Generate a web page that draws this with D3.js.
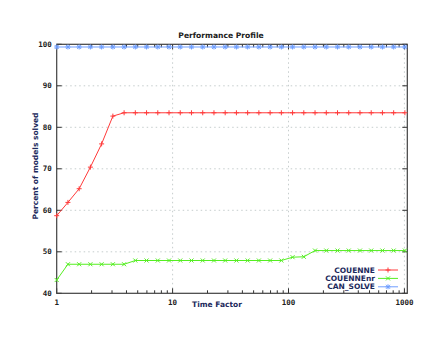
<!DOCTYPE html>
<html><head><meta charset="utf-8">
<script src="https://cdn.jsdelivr.net/npm/d3@7"></script>
<style>body{margin:0;background:#fff}svg{display:block}</style>
</head><body><svg id="c" width="440" height="340"></svg>
<script>
// Data (x = time factor sampled at 1.25^k, k = 0..31)
const timeFactors = [1,1.25,1.5625,1.953,2.441,3.052,3.815,4.768,5.96,7.451,9.313,11.64,14.55,18.19,22.74,28.42,35.53,44.41,55.51,69.39,86.74,108.4,135.5,169.4,211.8,264.7,330.9,413.6,517,646.2,807.8,1009.7];
const couenne   = [58.7,61.9,65.2,70.4,76.0,82.7,83.5,83.5,83.5,83.5,83.5,83.5,83.5,83.5,83.5,83.5,83.5,83.5,83.5,83.5,83.5,83.5,83.5,83.5,83.5,83.5,83.5,83.5,83.5,83.5,83.5,83.5];
const couenneNr = [43.2,47.0,47.0,47.0,47.0,47.0,47.0,47.9,47.9,47.9,47.9,47.9,47.9,47.9,47.9,47.9,47.9,47.9,47.9,47.9,47.9,48.7,48.8,50.3,50.3,50.3,50.3,50.3,50.3,50.3,50.3,50.3];
const canSolve  = [99.35,99.35,99.35,99.35,99.35,99.35,99.35,99.35,99.35,99.35,99.35,99.35,99.35,99.35,99.35,99.35,99.35,99.35,99.35,99.35,99.35,99.35,99.35,99.35,99.35,99.35,99.35,99.35,99.35,99.35,99.35,99.35];
const seriesNames = ["COUENNE","COUENNEnr","CAN_SOLVE"];
const xTickValues = [1,10,100,1000];
const yTickValues = [40,50,60,70,80,90,100];
const title = "Performance Profile";
const xLabel = "Time Factor";
const yLabel = "Percent of models solved";

const svg = d3.select("#c");
const L = 56.7, R = 407.3, T = 44.3, B = 293.3;
const x = d3.scaleLog().domain([1, 1059]).range([L, R]);
const y = d3.scaleLinear().domain([40, 100]).range([B, T]);
const textCol = "#1c2a5c";
const tickFont = "'DejaVu Sans Mono', monospace";
const labFont = "'DejaVu Sans', sans-serif";

// grid
const g = svg.append("g");
g.selectAll(".gx").data(xTickValues.filter(v => v > 1)).enter().append("line")
  .attr("x1", d => x(d)).attr("x2", d => x(d)).attr("y1", T).attr("y2", B)
  .attr("stroke", "#b8c0c0").attr("stroke-width", 0.8).attr("stroke-dasharray", "1.5,3");
g.selectAll(".gy").data(yTickValues.filter(v => v > 40 && v < 100)).enter().append("line")
  .attr("x1", L).attr("x2", R).attr("y1", d => y(d)).attr("y2", d => y(d))
  .attr("stroke", "#b8c0c0").attr("stroke-width", 0.8).attr("stroke-dasharray", "1.5,3");

// minor x ticks
const minor = [];
for (let dec = 1; dec <= 1000; dec *= 10) for (let m = 1; m <= 9; m++) { const v = dec * m; if (v <= 1059) minor.push(v); }
const tk = svg.append("g").attr("stroke", "#303030").attr("stroke-width", 1);
minor.forEach(v => {
  const major = xTickValues.includes(v);
  const len = major ? 5 : 3;
  tk.append("line").attr("x1", x(v)).attr("x2", x(v)).attr("y1", B).attr("y2", B - len);
  tk.append("line").attr("x1", x(v)).attr("x2", x(v)).attr("y1", T).attr("y2", T + len);
});
yTickValues.forEach(v => {
  tk.append("line").attr("x1", L).attr("x2", L + 5).attr("y1", y(v)).attr("y2", y(v));
  tk.append("line").attr("x1", R).attr("x2", R - 5).attr("y1", y(v)).attr("y2", y(v));
});

// border
svg.append("rect").attr("x", L).attr("y", T).attr("width", R - L).attr("height", B - T)
  .attr("fill", "none").attr("stroke", "#404040").attr("stroke-width", 1.2);

// tick labels
svg.selectAll(".yl").data(yTickValues).enter().append("text")
  .attr("x", L - 5).attr("y", d => y(d)).attr("dy", "0.35em").attr("text-anchor", "end")
  .attr("font-family", tickFont).attr("font-weight", "bold").attr("font-size", 7.5).attr("fill", "#202020")
  .text(d => d);
svg.selectAll(".xl").data(xTickValues).enter().append("text")
  .attr("x", d => x(d)).attr("y", B + 9).attr("dy", "0.35em").attr("text-anchor", "middle")
  .attr("font-family", tickFont).attr("font-weight", "bold").attr("font-size", 7.5).attr("fill", "#202020")
  .text(d => d);

// labels
svg.append("text").attr("x", 221).attr("y", 35).attr("dy", "0.35em").attr("text-anchor", "middle")
  .attr("font-family", labFont).attr("font-weight", "bold").attr("font-size", 7.6).attr("fill", "#202020").text(title);
svg.append("text").attr("x", 217).attr("y", 304).attr("dy", "0.35em").attr("text-anchor", "middle")
  .attr("font-family", labFont).attr("font-weight", "bold").attr("font-size", 7.5).attr("fill", textCol).text(xLabel);
svg.append("text").attr("transform", "translate(35,166) rotate(-90)").attr("dy", "0.35em").attr("text-anchor", "middle")
  .attr("font-family", labFont).attr("font-weight", "bold").attr("font-size", 7.5).attr("fill", textCol).text(yLabel);

// series
const series = [
  {name: seriesNames[0], vals: couenne, color: "#ff3a3a", marker: "plus"},
  {name: seriesNames[1], vals: couenneNr, color: "#55ee22", marker: "cross"},
  {name: seriesNames[2], vals: canSolve, color: "#6f9fff", marker: "star"}
];
function drawMarker(sel, cx, cy, type, color) {
  const s = 2.5;
  const grp = sel.append("g").attr("stroke", color).attr("stroke-width", 1);
  if (type === "plus" || type === "star") {
    grp.append("line").attr("x1", cx - s).attr("x2", cx + s).attr("y1", cy).attr("y2", cy);
    grp.append("line").attr("x1", cx).attr("x2", cx).attr("y1", cy - s).attr("y2", cy + s);
  }
  if (type === "cross" || type === "star") {
    const c = s * 0.8;
    grp.append("line").attr("x1", cx - c).attr("x2", cx + c).attr("y1", cy - c).attr("y2", cy + c);
    grp.append("line").attr("x1", cx - c).attr("x2", cx + c).attr("y1", cy + c).attr("y2", cy - c);
  }
}
const line = d3.line().x(d => x(d[0])).y(d => y(d[1]));
series.forEach(s => {
  const pts = timeFactors.map((t, i) => [t, s.vals[i]]);
  svg.append("path").attr("d", line(pts)).attr("fill", "none").attr("stroke", s.color).attr("stroke-width", 1);
  const mg = svg.append("g");
  pts.forEach(p => drawMarker(mg, x(p[0]), y(p[1]), s.marker, s.color));
});

// legend
series.forEach((s, i) => {
  const ly = 270 + i * 8.4;
  svg.append("text").attr("x", 375).attr("y", ly).attr("dy", "0.35em").attr("text-anchor", "end")
    .attr("font-family", labFont).attr("font-weight", "bold").attr("font-size", 7.5).attr("fill", textCol).text(s.name);
  svg.append("line").attr("x1", 378).attr("x2", 398).attr("y1", ly).attr("y2", ly).attr("stroke", s.color).attr("stroke-width", 1);
  drawMarker(svg, 388, ly, s.marker, s.color);
});
</script></body></html>
